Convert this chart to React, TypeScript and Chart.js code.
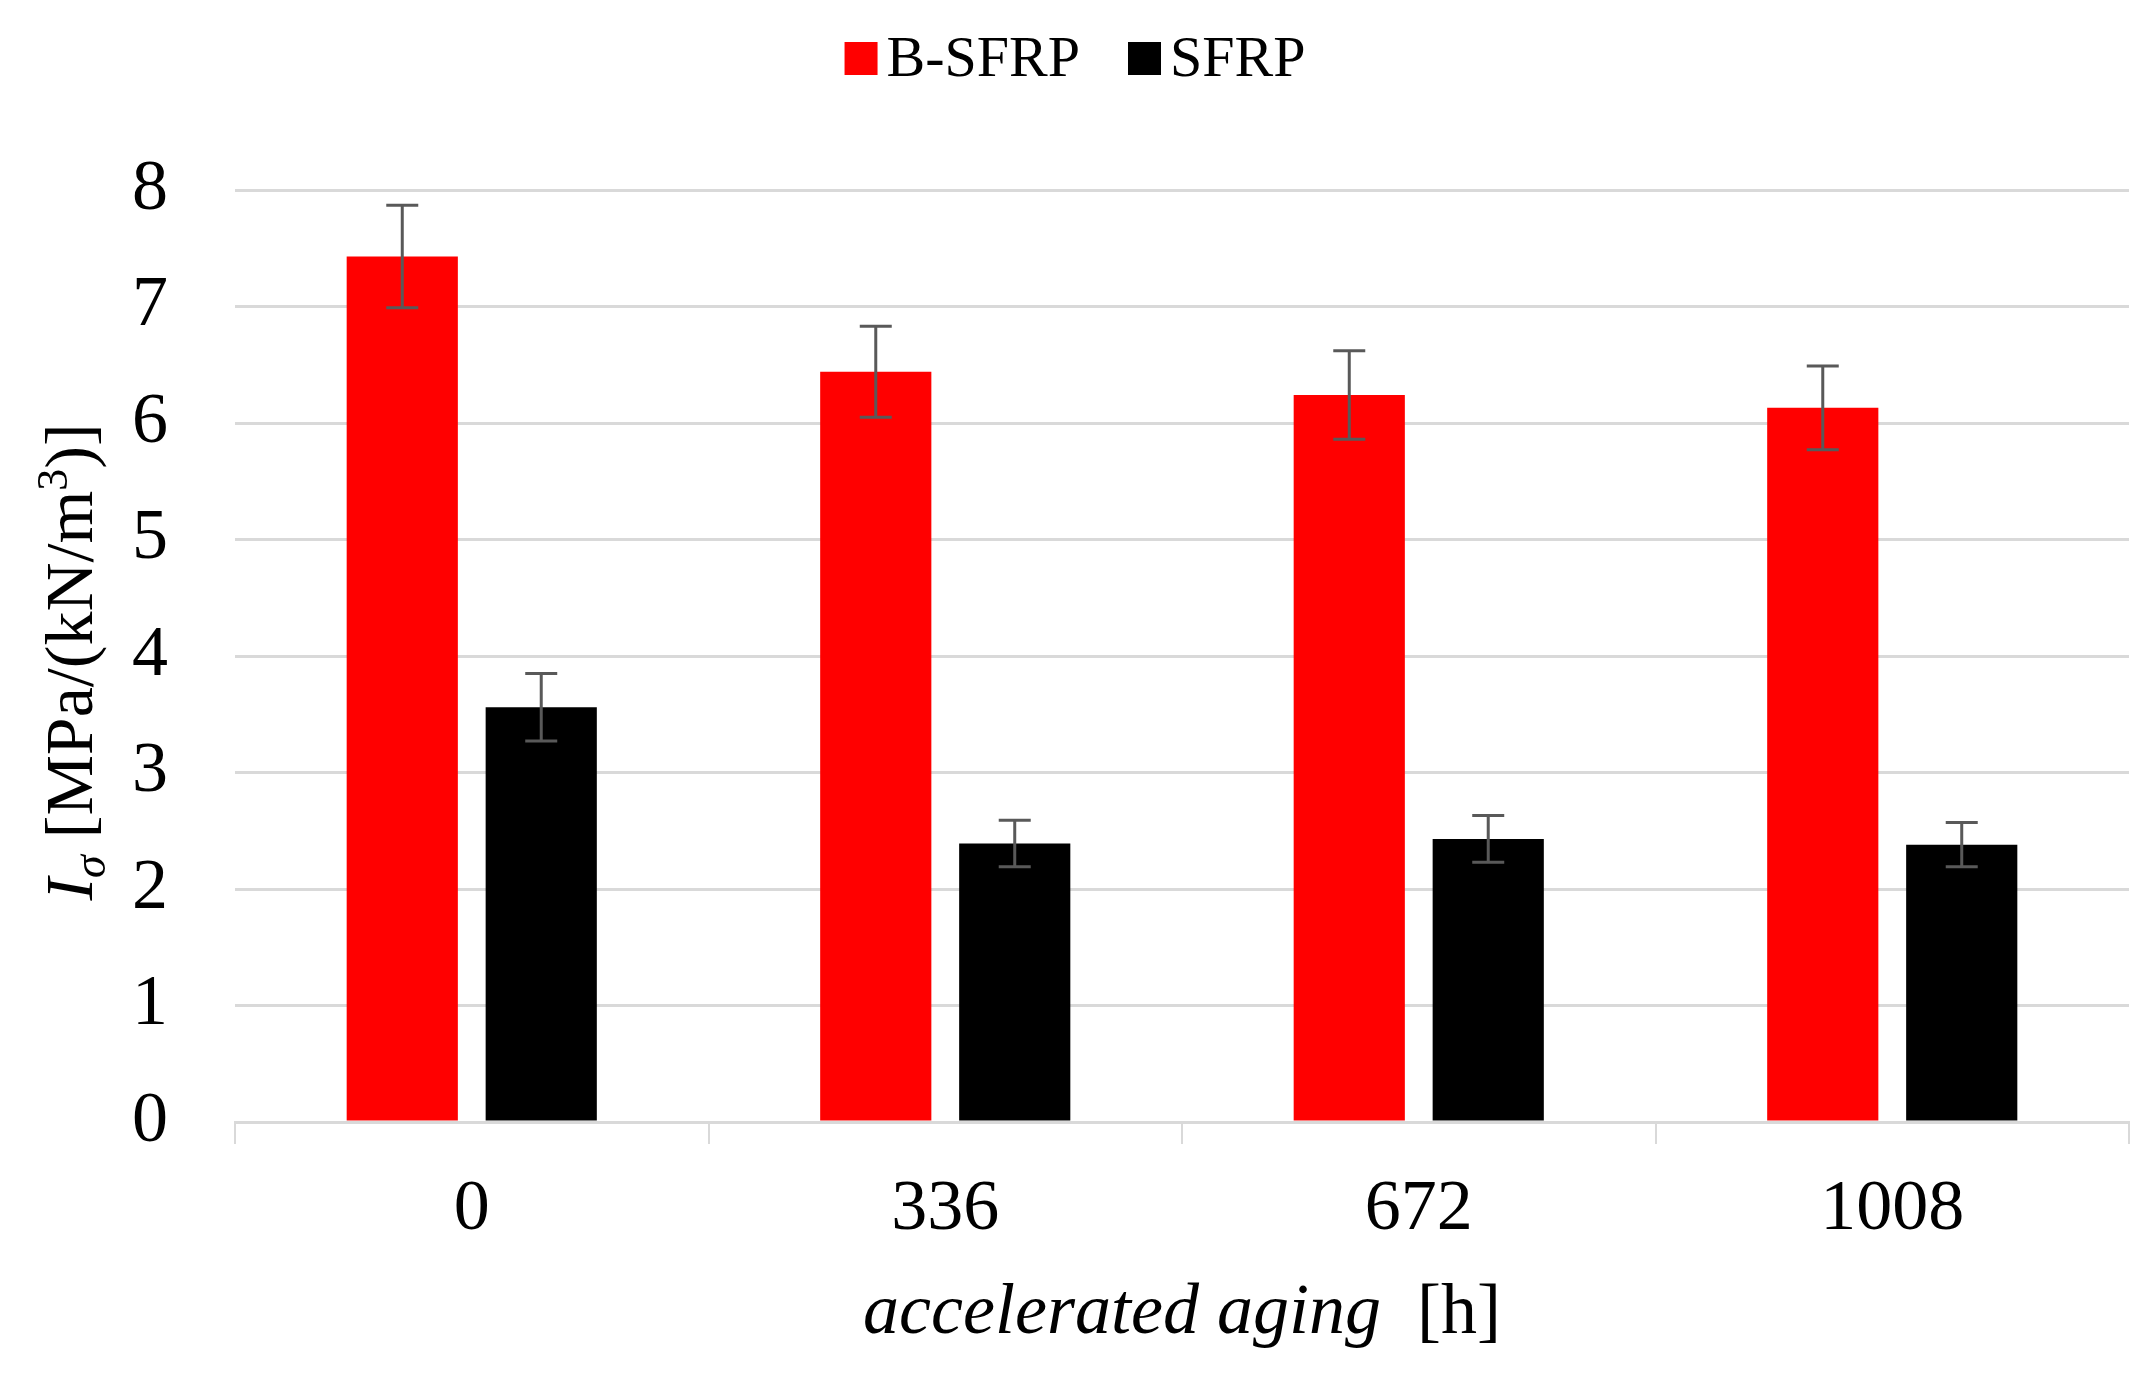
import React, { useEffect, useRef } from "react";
import { Chart, registerables } from "chart.js";

Chart.register(...registerables);

// ---- data ----
const categories = ["0", "336", "672", "1008"];
const seriesNames = ["B-SFRP", "SFRP"];
const seriesColors = ["#ff0000", "#000000"];
const bsfrpValues = [7.43, 6.44, 6.24, 6.13];
const bsfrpErrors = [0.44, 0.39, 0.38, 0.36];
const sfrpValues = [3.56, 2.39, 2.43, 2.38];
const sfrpErrors = [0.29, 0.2, 0.2, 0.19];
const yMin = 0;
const yMax = 8;
const yStep = 1;
const xTitleItalic = "accelerated aging";
const xTitleUnit = "[h]";

const SERIF = "'Liberation Serif', 'Times New Roman', serif";
const GRID = "#d9d9d9";

type Seg = { text: string; font: string; dy: number };

function drawSegs(ctx: CanvasRenderingContext2D, segs: Seg[], startX: number) {
  let x = startX;
  for (const s of segs) {
    ctx.font = s.font;
    ctx.fillText(s.text, x, s.dy);
    x += ctx.measureText(s.text).width;
  }
}
function segsWidth(ctx: CanvasRenderingContext2D, segs: Seg[]) {
  let w = 0;
  for (const s of segs) {
    ctx.font = s.font;
    w += ctx.measureText(s.text).width;
  }
  return w;
}

const errorBarPlugin = {
  id: "errorBars",
  afterDatasetsDraw(chart: any) {
    const ctx = chart.ctx as CanvasRenderingContext2D;
    const yScale = chart.scales.y;
    const errs = [bsfrpErrors, sfrpErrors];
    ctx.save();
    ctx.strokeStyle = "#595959";
    ctx.lineWidth = 3;
    chart.data.datasets.forEach((ds: any, i: number) => {
      const meta = chart.getDatasetMeta(i);
      meta.data.forEach((bar: any, j: number) => {
        const v = ds.data[j];
        const e = errs[i][j];
        const x = bar.x;
        const yTop = yScale.getPixelForValue(v + e);
        const yBot = yScale.getPixelForValue(v - e);
        const cap = 16;
        ctx.beginPath();
        ctx.moveTo(x, yTop);
        ctx.lineTo(x, yBot);
        ctx.moveTo(x - cap, yTop);
        ctx.lineTo(x + cap, yTop);
        ctx.moveTo(x - cap, yBot);
        ctx.lineTo(x + cap, yBot);
        ctx.stroke();
      });
    });
    ctx.restore();
  },
};

const textPlugin = {
  id: "richText",
  afterDraw(chart: any) {
    const ctx = chart.ctx as CanvasRenderingContext2D;
    const area = chart.chartArea;
    ctx.save();
    ctx.fillStyle = "#000";
    ctx.textBaseline = "alphabetic";
    ctx.textAlign = "left";

    // legend
    const lfont = `58px ${SERIF}`;
    ctx.font = lfont;
    const box = 33;
    const gapText = 9;
    const gapItem = 48;
    const widths = seriesNames.map((n) => ctx.measureText(n).width);
    let total = 0;
    widths.forEach((w, i) => {
      total += box + gapText + w + (i < widths.length - 1 ? gapItem : 0);
    });
    let lx = chart.width / 2 - total / 2;
    const boxTop = 42;
    seriesNames.forEach((n, i) => {
      ctx.fillStyle = seriesColors[i];
      ctx.fillRect(lx, boxTop, box, box);
      ctx.fillStyle = "#000";
      ctx.font = lfont;
      ctx.textBaseline = "middle";
      ctx.fillText(n, lx + box + gapText, boxTop + box / 2 + 2);
      lx += box + gapText + widths[i] + gapItem;
    });
    ctx.textBaseline = "alphabetic";

    // x axis title
    const xSegs: Seg[] = [
      { text: xTitleItalic, font: `italic 72px ${SERIF}`, dy: 0 },
      { text: "  " + xTitleUnit, font: `72px ${SERIF}`, dy: 0 },
    ];
    const xw = segsWidth(ctx, xSegs);
    const cx = (area.left + area.right) / 2;
    ctx.save();
    ctx.translate(cx, 1333);
    drawSegs(ctx, xSegs, -xw / 2);
    ctx.restore();

    // y axis title
    const ySegs: Seg[] = [
      { text: "I", font: `italic 68px ${SERIF}`, dy: 0 },
      { text: "σ", font: `italic 46px ${SERIF}`, dy: 13 },
      { text: " [MPa/(kN/m", font: `68px ${SERIF}`, dy: 0 },
      { text: "3", font: `44px ${SERIF}`, dy: -25 },
      { text: ")]", font: `68px ${SERIF}`, dy: 0 },
    ];
    const yw = segsWidth(ctx, ySegs);
    const cy = (area.top + area.bottom) / 2 + 6;
    ctx.save();
    ctx.translate(92, cy);
    ctx.rotate(-Math.PI / 2);
    drawSegs(ctx, ySegs, -yw / 2);
    ctx.restore();

    ctx.restore();
  },
};

export default function App() {
  const ref = useRef<HTMLCanvasElement | null>(null);
  useEffect(() => {
    if (!ref.current) return;
    const chart = new Chart(ref.current, {
      type: "bar",
      data: {
        labels: categories,
        datasets: [
          {
            label: seriesNames[0],
            data: bsfrpValues,
            backgroundColor: seriesColors[0],
            categoryPercentage: 0.587,
            barPercentage: 0.8,
          },
          {
            label: seriesNames[1],
            data: sfrpValues,
            backgroundColor: seriesColors[1],
            categoryPercentage: 0.587,
            barPercentage: 0.8,
          },
        ],
      },
      options: {
        animation: false,
        responsive: true,
        maintainAspectRatio: false,
        layout: { padding: { top: 190, right: 21, bottom: 0, left: 0 } },
        plugins: {
          legend: { display: false },
          tooltip: { enabled: false },
          title: { display: false },
        },
        scales: {
          x: {
            grid: {
              display: true,
              drawOnChartArea: false,
              drawTicks: true,
              tickLength: 22,
              color: GRID,
              lineWidth: 2,
              offset: true,
            },
            border: { display: true, color: GRID, width: 3 },
            ticks: {
              color: "#000",
              padding: 23,
              font: { family: SERIF, size: 72 },
            },
            afterFit: (scale: any) => {
              scale.height = 257;
            },
          },
          y: {
            min: yMin,
            max: yMax,
            ticks: {
              stepSize: yStep,
              color: "#000",
              padding: 67,
              font: { family: SERIF, size: 72 },
            },
            grid: { color: GRID, lineWidth: 3, drawTicks: false },
            border: { display: false },
            afterFit: (scale: any) => {
              scale.width = 235;
            },
          },
        },
      },
      plugins: [errorBarPlugin, textPlugin],
    });
    return () => chart.destroy();
  }, []);
  return (
    <div style={{ position: "fixed", left: 0, top: 0, width: 2150, height: 1379, background: "#fff" }}>
      <canvas ref={ref} />
    </div>
  );
}
